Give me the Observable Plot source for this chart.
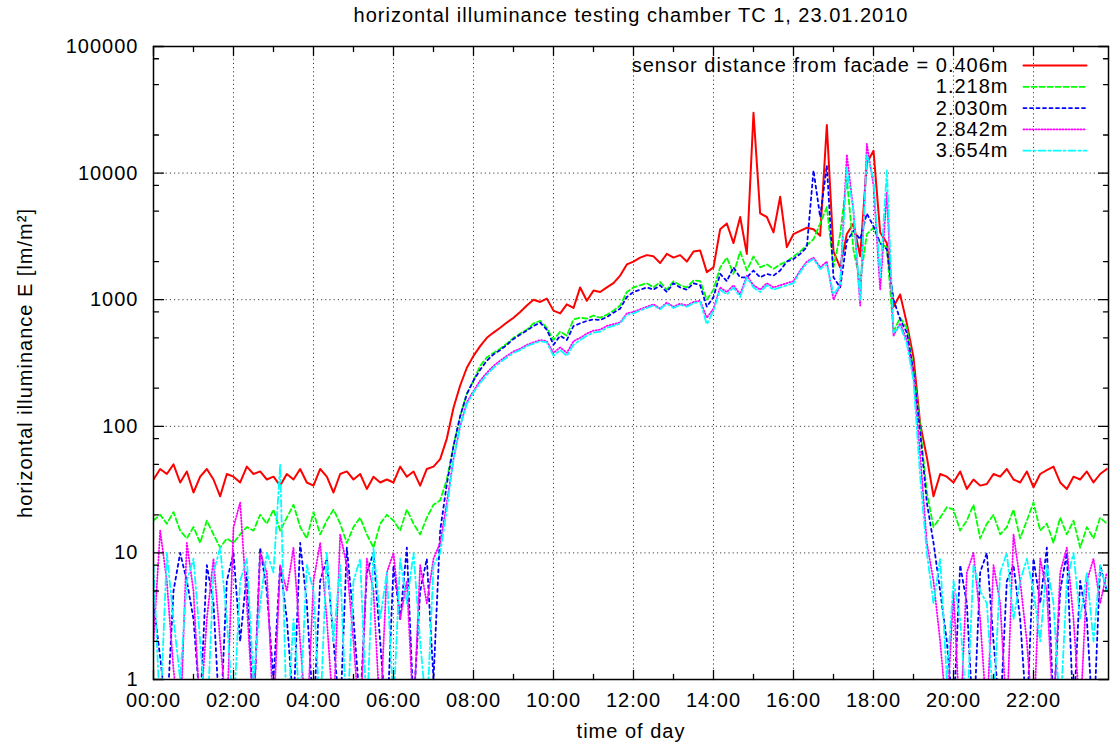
<!DOCTYPE html>
<html><head><meta charset="utf-8">
<script src="https://cdn.jsdelivr.net/npm/d3@7"></script>
<script src="https://cdn.jsdelivr.net/npm/@observablehq/plot@0.6"></script>
<style>body{margin:0;background:#fff;}</style>
</head><body><div id="chart"></div>
<script>
const title = "horizontal illuminance testing chamber TC 1, 23.01.2010";
const xLabel = "time of day";
const yLabel = "horizontal illuminance E [lm/m²]";
const legendPrefix = "sensor distance from facade = ";
const seriesNames = ["0.406m", "1.218m", "2.030m", "2.842m", "3.654m"];
const seriesColors = ["#ff0000", "#00ff00", "#0000ff", "#ff00ff", "#00ffff"];
const seriesDash = [null, "5,3", "3,3.5", "1,2", "7,3,2,3"];

// sample times (hours), every 10 minutes
const sampleHours = d3.range(144).map(i => i / 6);

const xMajorTicks = [0, 2, 4, 6, 8, 10, 12, 14, 16, 18, 20, 22];
const xMinorTicks = [1, 3, 5, 7, 9, 11, 13, 15, 17, 19, 21, 23];
const yMajorTicks = [1, 10, 100, 1000, 10000, 100000];
const yMinorTicks = [2, 5, 8, 20, 50, 80, 200, 500, 800, 2000, 5000, 8000, 20000, 50000, 80000];

const red = [38,46,42,50,36,44, 30,40,46,38,28,42, 40,36,48,42,44,38, 40,34,42,38,46,36,
 34,46,40,30,42,44, 38,42,32,40,36,38, 36,48,40,44,34,46, 48,55,80,140,210,290,
 360,430,500,550,600,660, 720,800,900,1000,960,1020, 820,780,920,860,1250,980,
 1180,1150,1250,1350,1550,1900, 2000,2150,2250,2200,1950,2300, 2150,2250,2000,2400,2450,1650,
 1800,3600,4000,2800,4500,2300, 30000,4800,4500,3400,6500,2600, 3300,3500,3700,3600,3200,24000,
 2400,1800,3300,4000,2200,12000, 15000,3400,2800,880,1100,650, 350,105,57,28,42,40,
 36,44,32,38,34,35, 42,40,46,38,36,44, 33,42,45,48,36,32, 40,38,44,36,42,46];

const green = [18,20,17,21,15,13, 16,12,18,14,11,13, 12,14,16,15,20,17, 22,15,19,24,16,13,
 21,14,18,22,17,12, 16,19,14,11,17,20, 18,15,22,17,14,19, 24,26,38,70,120,180,
 230,300,350,380,410,450, 500,540,580,650,680,600, 480,560,520,700,720,710,
 750,720,760,820,900,1150, 1250,1300,1350,1250,1380,1200, 1400,1300,1250,1420,1400,1000,
 1200,1800,2150,1600,2400,1700, 2200,1800,1900,1750,1900,2000, 2200,2400,2700,3000,4000,5400,
 1800,3300,9000,2450,1400,3300, 3700,2800,2600,560,720,600, 280,100,30,16,19,23,
 22,15,18,24,13,17, 20,14,16,22,13,18, 25,15,17,12,19,14, 18,11,16,13,19,17];

const blue = [4,1.5,0.5,5,10,6, 3,0.6,8,4,0.4,6, 10,2,7,0.5,11,5, 1,8,3,0.6,12,4,
 0.5,6,9,2,0.5,11, 3,0.6,7,10,2,0.4, 8,3,11,0.6,5,9, 1,15,35,70,120,180,
 230,280,330,370,400,440, 490,530,570,620,660,580, 440,520,480,620,650,680,
 700,690,730,790,850,1050, 1150,1200,1250,1200,1300,1150, 1350,1250,1200,1350,1300,880,
 1050,1600,1400,1800,1500,1500, 1700,1500,1600,1550,1700,2000, 2100,2300,2600,10500,4500,11500,
 1500,1250,2900,3500,3000,4800, 3800,2800,2500,1000,700,550, 270,90,25,12,5,2,
 0.5,8,4,0.4,7,10, 2,0.5,6,8,3,0.5, 9,4,11,0.6,5,10, 0.5,6,3,0.4,8,5];

const magenta = [2,15,6,1.2,0.4,12, 5,0.5,3,9,2,0.5, 16,25,4,0.5,10,7, 0.5,8,5,11,2,0.4,
 6,12,3,0.5,14,8, 2,0.4,9,5,0.5,7, 10,3,6,0.5,8,4, 9,12,25,55,100,155,
 190,230,265,300,330,360, 390,410,440,460,480,470, 380,420,380,470,500,540,
 570,580,620,640,660,780, 800,840,880,920,850,950, 880,930,900,960,980,720,
 850,1250,1150,1300,1100,1550, 1300,1200,1350,1250,1300,1350, 1400,1700,2000,2150,1800,2000,
 1000,1300,14000,5000,900,17000, 8000,1200,7000,520,650,480, 250,60,12,6,2,0.5,
 5,0.4,7,10,3,0.5, 8,4,0.5,14,6,2, 0.4,9,5,0.5,7,11, 3,0.5,6,9,4,7];

const cyan = [8,0.5,10,3,1,6, 9,2,0.4,7,11,3, 0.5,6,9,1,4,10, 7,50,0.4,3,0.6,8,
 5,0.5,10,2,8,0.4, 6,9,0.5,11,3,7, 0.6,9,4,10,2,0.5, 8,10,22,55,100,150,
 185,220,255,290,320,350, 380,400,430,450,470,460, 360,400,360,440,480,520,
 550,560,600,620,650,760, 780,820,860,900,840,930, 860,910,880,940,960,640,
 820,1200,1100,1250,1050,1500, 1250,1150,1300,1200,1250,1300, 1350,1650,1950,2100,1750,1900,
 1100,1300,11000,5000,1000,14000, 9000,1500,10500,550,620,450, 230,40,10,4,9,1,
 6,3,0.5,8,5,4, 0.6,7,10,3,6,9, 5,2,8,4,0.5,6, 10,3,7,2,8,5];

const seriesValues = [red, green, blue, magenta, cyan];

const tickShape = {draw(ctx, l) { ctx.moveTo(0, 0); ctx.lineTo(0, -l); }};
const fmtTime = d => `${String(d).padStart(2, "0")}:00`;

function tickMarks(values, len, axis) {
  const base = {length: len, anchor: "start", shape: tickShape, stroke: "black", strokeWidth: 1.3};
  if (axis === "x") return [
    Plot.vector(values, {...base, x: d => d, frameAnchor: "bottom", rotate: 0}),
    Plot.vector(values, {...base, x: d => d, frameAnchor: "top", rotate: 180})
  ];
  return [
    Plot.vector(values, {...base, y: d => d, frameAnchor: "left", rotate: 90}),
    Plot.vector(values, {...base, y: d => d, frameAnchor: "right", rotate: -90})
  ];
}

const marks = [
  Plot.gridX(xMajorTicks.slice(1), {stroke: "#000", strokeOpacity: 0.75, strokeDasharray: "1.2,3", strokeWidth: 1}),
  Plot.gridY(yMajorTicks.slice(1, -1), {stroke: "#000", strokeOpacity: 0.75, strokeDasharray: "1.2,3", strokeWidth: 1}),
];
seriesValues.forEach((vals, k) => {
  marks.push(Plot.line(vals, {x: sampleHours, y: d => d, stroke: seriesColors[k],
    strokeWidth: k === 0 ? 2 : 1.8, strokeDasharray: seriesDash[k], clip: true}));
});
marks.push(
  Plot.frame({stroke: "black", strokeWidth: 1.5}),
  ...tickMarks(xMajorTicks, 9, "x"),
  ...tickMarks(xMinorTicks, 5, "x"),
  ...tickMarks(yMajorTicks, 10, "y"),
  ...tickMarks(yMinorTicks, 5, "y"),
  Plot.axisX(xMajorTicks, {tickSize: 0, tickPadding: 13, tickFormat: fmtTime, label: null}),
  Plot.axisY(yMajorTicks, {tickSize: 0, tickPadding: 15, tickFormat: d => String(d), label: null}),
  Plot.text([title], {frameAnchor: "top", dy: -31, lineAnchor: "middle", text: d => d}),
  Plot.text([xLabel], {frameAnchor: "bottom", dy: 52, lineAnchor: "middle", text: d => d}),
  Plot.text([yLabel], {frameAnchor: "left", dx: -128, rotate: -90, lineAnchor: "middle", textAnchor: "middle", text: d => d})
);
seriesNames.forEach((name, k) => {
  const dy = 19 + k * 21.3;
  marks.push(Plot.text([k === 0 ? legendPrefix + name : name], {frameAnchor: "top-right", dx: -100, dy,
    textAnchor: "end", lineAnchor: "middle", text: d => d}));
  marks.push(Plot.vector([0], {frameAnchor: "top-right", dx: -85, dy, rotate: 90, length: 63, anchor: "start",
    shape: tickShape, stroke: seriesColors[k], strokeWidth: k === 0 ? 2 : 1.8, strokeDasharray: seriesDash[k]}));
});

const chart = Plot.plot({
  width: 1110,
  height: 744,
  marginTop: 46,
  marginBottom: 65,
  marginLeft: 153,
  marginRight: 2,
  style: {fontFamily: "'Liberation Sans', Arial, sans-serif", fontSize: "20px", letterSpacing: "1px", background: "#fff", color: "#000"},
  x: {domain: [0, 23.875]},
  y: {type: "log", domain: [1, 100000]},
  marks
});
document.getElementById("chart").append(chart);
</script>
</body></html>
